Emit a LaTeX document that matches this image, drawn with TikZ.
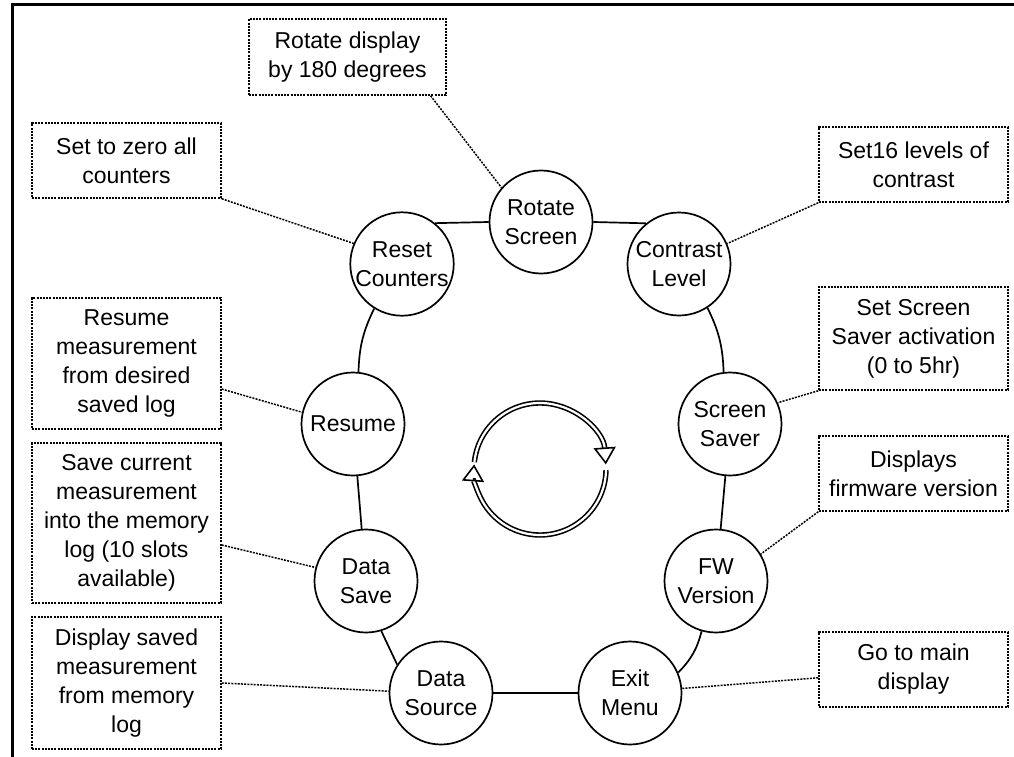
\documentclass[tikz,border=0pt]{standalone}
\usepackage{fontspec}
\setmainfont{Liberation Sans}
\usetikzlibrary{arrows.meta}

\begin{document}
\begin{tikzpicture}[x=1pt,y=-1pt,
    menu/.style={circle,draw,line width=1.7pt,minimum size=103pt,inner sep=0pt,align=center},
    note/.style={draw,line width=1.5pt,dash pattern=on 2pt off 1.2pt,minimum width=189pt,inner sep=0pt,align=center},
    ring/.style={line width=1.7pt},
    hint/.style={line width=1.5pt,dash pattern=on 2pt off 1.2pt},
    turn/.style={line width=1.6pt,double,double distance=2.2pt,-{Triangle[open,length=17pt,width=22pt]}},
    font=\fontsize{23}{29}\selectfont]
    \useasboundingbox (0,0) rectangle (1014,757);
    \draw[line width=3pt] (12.5,757) -- (12.5,5) -- (1014,5);

    \node[menu] (rotate) at (541,222) {Rotate\\Screen};
    \node[menu] (reset) at (402,264) {Reset\\Counters};
    \node[menu] (contrast) at (679,264) {Contrast\\Level};
    \node[menu] (resume) at (353,424) {Resume};
    \node[menu] (ssaver) at (730,424) {Screen\\Saver};
    \node[menu] (dsave) at (366,581) {Data\\Save};
    \node[menu] (fw) at (716,581) {FW\\Version};
    \node[menu] (dsource) at (441,693) {Data\\Source};
    \node[menu] (exit) at (630,693) {Exit\\Menu};

    \node[note,minimum width=197pt,minimum height=76pt] (rotbox) at (347.5,57) {Rotate display\\by 180 degrees};
    \node[note,minimum height=75pt] (zerobox) at (126.5,160.5) {Set to zero all\\counters};
    \node[note,minimum height=75pt] (contbox) at (913.5,164.5) {Set16 levels of\\contrast};
    \node[note,minimum height=103pt] (ssbox) at (913.5,338.5) {Set Screen\\Saver activation\\(0 to 5hr)};
    \node[note,minimum height=75pt] (fwbox) at (913.5,473.5) {Displays\\firmware version};
    \node[note,minimum height=75pt] (exitbox) at (913.5,669.5) {Go to main\\display};
    \node[note,minimum height=131pt] (resbox) at (126.5,363.5) {Resume\\measurement\\from desired\\saved log};
    \node[note,minimum height=160pt] (savebox) at (126.5,523) {Save current\\measurement\\into the memory\\log (10 slots\\available)};
    \node[note,minimum height=132pt] (dispbox) at (126.5,683) {Display saved\\measurement\\from memory\\log};

    \draw[ring] (reset.51) -- (rotate.west);
    \draw[ring] (rotate.east) -- (contrast.129);
    \draw[ring] (contrast.-57) to[bend left=12] (ssaver.97);
    \draw[ring] (ssaver) -- (fw);
    \draw[ring] (fw.-106) to[bend left=15] (exit.23);
    \draw[ring] (exit) -- (dsource);
    \draw[ring] (dsource.147) -- (dsave.-73);
    \draw[ring] (dsave) -- (resume);
    \draw[ring] (resume.84) to[bend left=12] (reset.-122);

    \draw[hint] (rotbox.-25) -- (rotate.139);
    \draw[hint] (zerobox.south east) -- (reset.157);
    \draw[hint] (contbox.south west) -- (contrast.23);
    \draw[hint] (ssbox.south west) -- (ssaver.24);
    \draw[hint] (fwbox.south west) -- (fw.31);
    \draw[hint] (exitbox.185) -- (exit.5);
    \draw[hint] (resbox.-15) -- (resume.167);
    \draw[hint] (savebox.-13) -- (dsave.165);
    \draw[hint] (dispbox.east) -- (dsource.178);

    \coordinate (hub) at (540,469);
    \draw[turn] ([shift={(174:66pt)}]hub) arc[start angle=174,end angle=4,radius=66pt];
    \draw[turn] ([shift={(-1:66pt)}]hub) arc[start angle=-1,end angle=-184,radius=66pt];
\end{tikzpicture}
\end{document}
